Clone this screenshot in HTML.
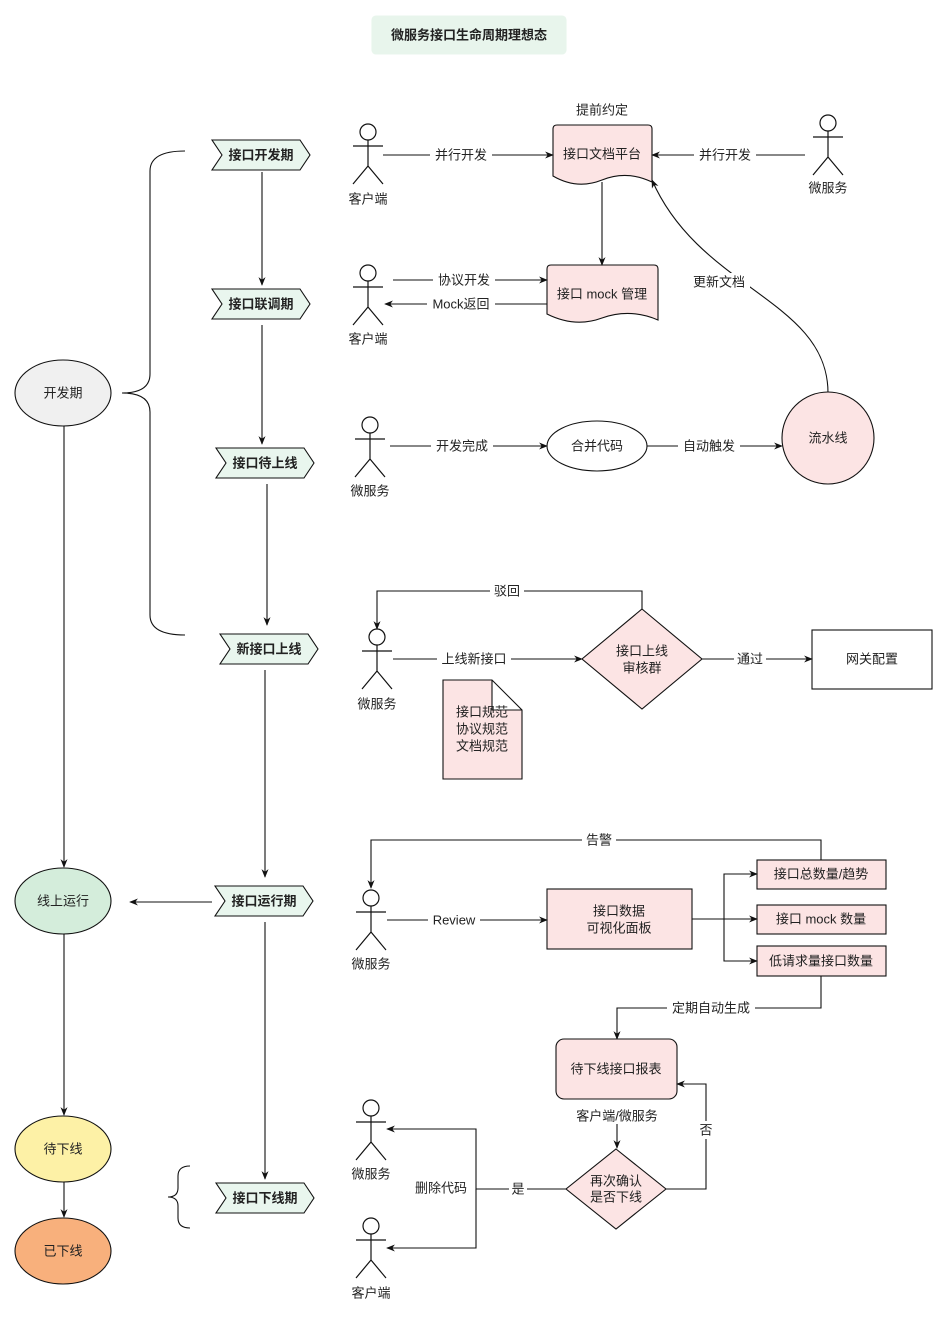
<!DOCTYPE html>
<html><head><meta charset="utf-8"><style>
body{margin:0;background:#fff}
text{font-family:"Liberation Sans","Noto Sans CJK SC",sans-serif;font-size:13px;fill:#222;text-anchor:middle;dominant-baseline:central}
.b{font-weight:bold}
</style></head><body>
<svg width="949" height="1318" viewBox="0 0 949 1318" xmlns="http://www.w3.org/2000/svg">
<defs>
<marker id="a" viewBox="0 0 10 10" refX="9" refY="5" markerWidth="8" markerHeight="8" orient="auto-start-reverse"><path d="M0,1 L10,5 L0,9 L3,5 z" fill="#111"/></marker>
<g id="actor" fill="none" stroke="#111" stroke-width="1.2"><circle cx="0" cy="8" r="8" fill="#fff"/><path d="M0,16 V42 M-15,22 H15 M0,42 L-15,60 M0,42 L15,60"/></g>
</defs>
<g stroke="#111" stroke-width="1.1" fill="none">
<rect x="372" y="16" width="194" height="38" rx="4" fill="#e8f5ec" stroke="#e8f5ec"/>
<g fill="#e9f6ee">
<polygon points="212,140 300,140 310,155 300,170 212,170 222,155"/>
<polygon points="212,289 300,289 310,304 300,319 212,319 222,304"/>
<polygon points="216,448 304,448 314,463 304,478 216,478 226,463"/>
<polygon points="220,634 308,634 318,649 308,664 220,664 230,649"/>
<polygon points="215,886 303,886 313,901 303,916 215,916 225,901"/>
<polygon points="216,1183 304,1183 314,1198 304,1213 216,1213 226,1198"/>
</g>
<g marker-end="url(#a)">
<path d="M262,172V285"/><path d="M262,325V444"/><path d="M267,484V625"/><path d="M265,670V877"/><path d="M265,922V1179"/>
</g>
<path d="M185,151 Q150,151 150,171 L150,374 Q150,393 122,393 Q150,393 150,412 L150,615 Q150,635 185,635"/>
<path d="M190,1166 Q178,1166 178,1176 L178,1188 Q178,1197 168,1197 Q178,1197 178,1206 L178,1218 Q178,1228 190,1228"/>
<ellipse cx="63" cy="393" rx="48" ry="33" fill="#f0f0f0"/>
<ellipse cx="63" cy="901" rx="48" ry="33" fill="#d4eddb"/>
<ellipse cx="63" cy="1149" rx="48" ry="33" fill="#fdf1a6"/>
<ellipse cx="63" cy="1251" rx="48" ry="33" fill="#f8b07c"/>
<g marker-end="url(#a)">
<path d="M64,426V867"/><path d="M64,934V1115"/><path d="M64,1182V1217"/><path d="M212,902H130"/>
</g>
<path d="M553,129 Q553,125 557,125 H648 Q652,125 652,129 V182 Q627,170 602,180 Q577,190 553,176 Z" fill="#fce4e4"/>
<path d="M547,269 Q547,265 551,265 H654 Q658,265 658,269 V320 Q630,308 602,318 Q575,328 547,314 Z" fill="#fce4e4"/>
<g marker-end="url(#a)">
<path d="M383,155H553"/><path d="M805,155H652"/><path d="M602,182V265"/><path d="M393,280H547"/><path d="M547,304H385"/><path d="M828,393 C828,300 700,290 652,180"/>
</g>
<ellipse cx="597" cy="446" rx="50" ry="25" fill="#fff"/>
<circle cx="828" cy="438" r="46" fill="#fce4e4"/>
<g marker-end="url(#a)"><path d="M390,446H547"/><path d="M647,446H782"/></g>
<polygon points="642,609 702,659 642,709 582,659" fill="#fce4e4"/>
<rect x="812" y="630" width="120" height="59" fill="#fff"/>
<g marker-end="url(#a)"><path d="M393,659H582"/><path d="M702,659H812"/><path d="M642,609V591H377V629"/></g>
<path d="M443,680 H492 L522,710 V779 H443 Z M492,680 V710 H522" fill="#fce4e4"/>
<rect x="547" y="889" width="145" height="60" fill="#fce4e4"/>
<rect x="757" y="860" width="129" height="29" fill="#fce4e4"/>
<rect x="757" y="905" width="129" height="29" fill="#fce4e4"/>
<rect x="757" y="946" width="129" height="30" fill="#fce4e4"/>
<g marker-end="url(#a)">
<path d="M387,920H547"/><path d="M692,919H757"/><path d="M724,919V874H757"/><path d="M724,919V961H757"/><path d="M821,860V840H371V888"/><path d="M821,976V1008H617V1039"/>
</g>
<rect x="556" y="1039" width="121" height="60" rx="8" fill="#fce4e4"/>
<polygon points="616,1149 666,1189 616,1229 566,1189" fill="#fce4e4"/>
<g marker-end="url(#a)">
<path d="M617,1124V1148"/><path d="M666,1189H706V1084H677"/><path d="M566,1189H476V1129H387"/><path d="M476,1189V1248H387"/>
</g>
</g>
<use href="#actor" x="368" y="124"/><use href="#actor" x="368" y="265"/><use href="#actor" x="370" y="417"/>
<use href="#actor" x="377" y="629"/><use href="#actor" x="828" y="115"/><use href="#actor" x="371" y="890"/>
<use href="#actor" x="371" y="1100"/><use href="#actor" x="371" y="1218"/>
<g>
<text x="469" y="35" class="b">微服务接口生命周期理想态</text>
<text x="261" y="155" class="b">接口开发期</text><text x="261" y="304" class="b">接口联调期</text>
<text x="265" y="463" class="b">接口待上线</text><text x="269" y="649" class="b">新接口上线</text>
<text x="264" y="901" class="b">接口运行期</text><text x="265" y="1198" class="b">接口下线期</text>
<text x="63" y="393">开发期</text><text x="63" y="901">线上运行</text><text x="63" y="1149">待下线</text><text x="63" y="1251">已下线</text>
<text x="368" y="199">客户端</text><text x="368" y="339">客户端</text><text x="370" y="491">微服务</text><text x="377" y="704">微服务</text>
<text x="828" y="188">微服务</text><text x="371" y="964">微服务</text><text x="371" y="1174">微服务</text><text x="371" y="1293">客户端</text>
<text x="602" y="110">提前约定</text><text x="602" y="154">接口文档平台</text><text x="602" y="294">接口 mock 管理</text>
<text x="597" y="446">合并代码</text><text x="828" y="438">流水线</text>
<text x="642" y="651">接口上线</text><text x="642" y="668">审核群</text><text x="872" y="659">网关配置</text>
<text x="482" y="712">接口规范</text><text x="482" y="729">协议规范</text><text x="482" y="746">文档规范</text>
<text x="619" y="911">接口数据</text><text x="619" y="928">可视化面板</text>
<text x="821" y="874">接口总数量/趋势</text><text x="821" y="919">接口 mock 数量</text><text x="821" y="961">低请求量接口数量</text>
<text x="616" y="1069">待下线接口报表</text><text x="617" y="1116">客户端/微服务</text>
<text x="616" y="1181">再次确认</text><text x="616" y="1197">是否下线</text>
</g>
<g>
<rect x="430" y="146" width="62" height="18" fill="#fff"/><text x="461" y="155">并行开发</text>
<rect x="694" y="146" width="62" height="18" fill="#fff"/><text x="725" y="155">并行开发</text>
<rect x="433" y="271" width="62" height="18" fill="#fff"/><text x="464" y="280">协议开发</text>
<rect x="427" y="295" width="68" height="18" fill="#fff"/><text x="461" y="304">Mock返回</text>
<rect x="688" y="273" width="62" height="18" fill="#fff"/><text x="719" y="282">更新文档</text>
<rect x="431" y="437" width="62" height="18" fill="#fff"/><text x="462" y="446">开发完成</text>
<rect x="678" y="437" width="62" height="18" fill="#fff"/><text x="709" y="446">自动触发</text>
<rect x="437" y="650" width="74" height="18" fill="#fff"/><text x="474" y="659">上线新接口</text>
<rect x="734" y="650" width="32" height="18" fill="#fff"/><text x="750" y="659">通过</text>
<rect x="490" y="582" width="34" height="18" fill="#fff"/><text x="507" y="591">驳回</text>
<rect x="582" y="831" width="34" height="18" fill="#fff"/><text x="599" y="840">告警</text>
<rect x="428" y="911" width="52" height="18" fill="#fff"/><text x="454" y="920">Review</text>
<rect x="667" y="999" width="88" height="18" fill="#fff"/><text x="711" y="1008">定期自动生成</text>
<rect x="698" y="1121" width="16" height="18" fill="#fff"/><text x="706" y="1130">否</text>
<rect x="509" y="1180" width="18" height="18" fill="#fff"/><text x="518" y="1189">是</text>
<text x="441" y="1188">删除代码</text>
</g>
</svg>
</body></html>
